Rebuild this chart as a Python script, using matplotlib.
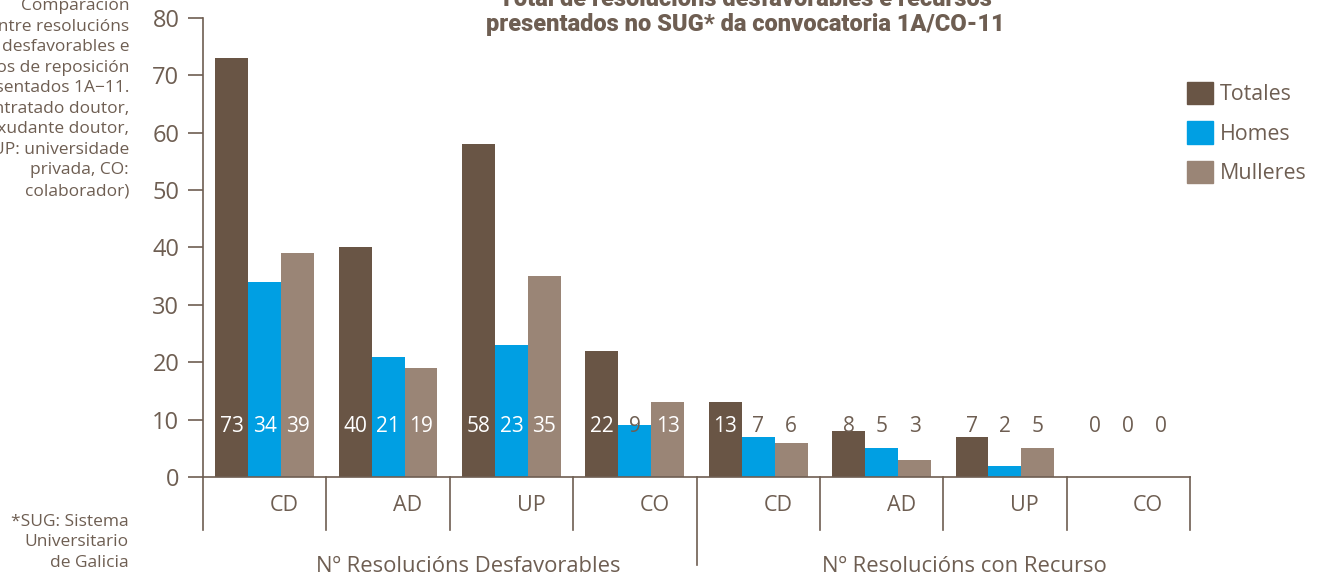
import numpy as np
import matplotlib.pyplot as plt
from matplotlib.patches import Patch

# data
categories = ["CD", "AD", "UP", "CO", "CD", "AD", "UP", "CO"]
groups = ["Nº Resolucións Desfavorables", "Nº Resolucións con Recurso"]
totales = [73, 40, 58, 22, 13, 8, 7, 0]
homes = [34, 21, 23, 9, 7, 5, 2, 0]
mulleres = [39, 19, 35, 13, 6, 3, 5, 0]
series_names = ["Totales", "Homes", "Mulleres"]

c_tot = "#695545"
c_hom = "#009fe3"
c_mul = "#9a8576"
txt = "#6e5e52"

plt.rcParams['font.family'] = ['Open Sans', 'DejaVu Sans']

fig = plt.figure(figsize=(13.19, 5.78), dpi=100)
W, H = 1319, 578
ax = fig.add_axes([203 / W, (H - 477) / H, (1190 - 203) / W, (477 - 18) / H])

x = np.arange(len(categories)) + 0.5
bw = 0.267
series = [totales, homes, mulleres]
colors = [c_tot, c_hom, c_mul]
for i, (vals, col) in enumerate(zip(series, colors)):
    xs = x + (i - 1) * bw
    ax.bar(xs, vals, width=bw, color=col, linewidth=0)
    for xi, v in zip(xs, vals):
        tc = "white" if v >= 12 else txt
        ax.text(xi, 8.8, str(v), ha="center", va="center", fontsize=15,
                color=tc)

ax.set_xlim(0, len(categories))
ax.set_ylim(0, 80)
ax.set_yticks(range(0, 81, 10))
ax.set_xticks([])
ax.tick_params(axis="y", length=11, width=1.2, color=txt, labelcolor=txt,
               labelsize=17, pad=6)
for s in ["top", "right"]:
    ax.spines[s].set_visible(False)
ax.spines["left"].set_color(txt)
ax.spines["bottom"].set_color(txt)
ax.spines["left"].set_linewidth(1.2)
ax.spines["bottom"].set_linewidth(1.2)

# separators below the axis
for b in range(len(categories) + 1):
    low = -15.3 if b == 4 else -9.2
    ax.plot([b, b], [0, low], color=txt, lw=1.2, clip_on=False)

for xi, lab in zip(x, categories):
    ax.text(xi + 0.16, -4.9, lab, ha="center", va="center", fontsize=15.5,
            color=txt, clip_on=False)

for gx, g in zip([2.15, 6.17], groups):
    ax.text(gx, -15.6, g, ha="center", va="center", fontsize=15.8, color=txt,
            clip_on=False)

# legend
handles = [Patch(color=c) for c in colors]
fig.legend(handles, series_names, loc="upper left",
           bbox_to_anchor=(1178 / W, 1 - 73 / H), frameon=False,
           fontsize=15.4, handlelength=1.25, handleheight=1.25,
           labelspacing=0.75, handletextpad=0.3, labelcolor=txt,
           borderaxespad=0)

# title
fig.text(745 / W, 1 - 12 / H,
         "Total de resolucións desfavorables e recursos\n"
         "presentados no SUG* da convocatoria 1A/CO-11",
         ha="center", va="center", fontsize=17, fontweight="heavy",
         color=txt, family=["Roboto", "DejaVu Sans"], linespacing=1.15)

# side notes
note = ("Comparación\nentre resolucións\ndesfavorables e\n"
        "recursos de reposición\npresentados 1A\u221211.\n"
        "(CD: contratado doutor,\nAD: axudante doutor,\nUP: universidade\n"
        "privada, CO:\ncolaborador)")
fig.text(129 / W, 1 - 199 / H, note, ha="right", va="bottom", fontsize=12.5,
         color=txt, linespacing=1.38)
fig.text(129 / W, 1 - 571 / H, "*SUG: Sistema\nUniversitario\nde Galicia",
         ha="right", va="bottom", fontsize=12.5, color=txt, linespacing=1.38)

fig.savefig("out.png", dpi=100)
